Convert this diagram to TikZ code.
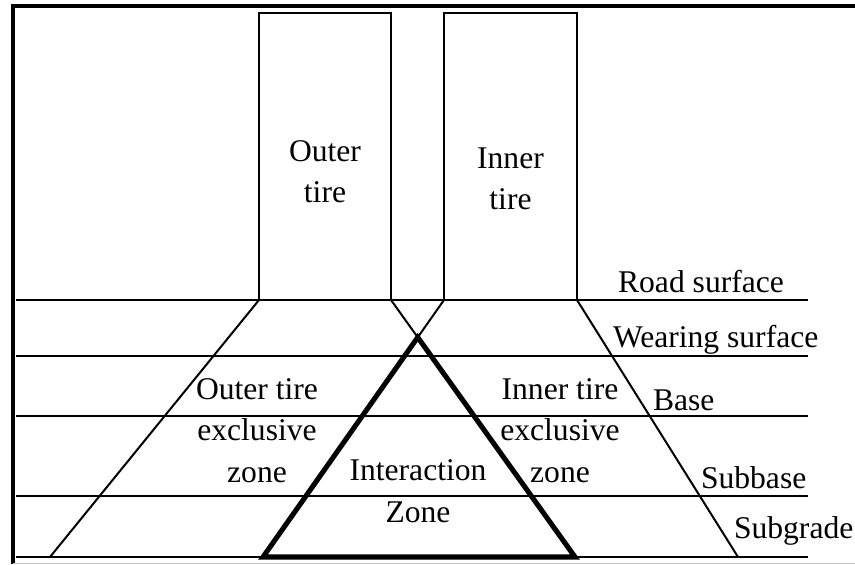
\documentclass[tikz,border=0pt]{standalone}
\usepackage{fontspec}
\setmainfont{Liberation Serif}

\begin{document}
\begin{tikzpicture}[x=0.75pt,y=0.75pt,line width=1.5pt,line join=miter,
  font=\fontsize{23.7}{30.8}\selectfont]
\tikzset{
  lbl/.style={inner sep=0pt,align=center,anchor=base},
  layer/.style={inner sep=0pt,anchor=base west},
  zone/.style={line width=3.8pt}
}
\useasboundingbox (0,0) rectangle (855,564);
% frame
\draw[line width=3pt] (12.5,0) -- (12.5,558) -- (855,558);
\draw[gray!45,line width=1pt] (12.5,0.8) -- (855,0.8);
% layer boundaries
\foreach \y in {264,208,148,68,7}
  \draw (16,\y) -- (808,\y);
% tires
\draw (259,264) rectangle (391,551);
\draw (444,264) rectangle (577,551);
\coordinate (ot-l) at (259,264);
\coordinate (ot-r) at (391,264);
\coordinate (it-l) at (444,264);
\coordinate (it-r) at (577,264);
\coordinate (zl) at (263,7);
\coordinate (zr) at (575,7);
\coordinate (apex) at (intersection of ot-r--zr and it-l--zl);
% load spread
\draw (ot-l) -- (50,7);
\draw (it-r) -- (738,7);
\draw (ot-r) -- (apex) (it-l) -- (apex);
\draw[zone] (apex) -- (zl) -- (zr) -- cycle;
% labels (base = last line)
\node[lbl] (otire) at (325,361) {Outer\\tire};
\node[lbl] (itire) at (510.5,354) {Inner\\tire};
\node[lbl] (ozone) at (257,82) {Outer tire\\exclusive\\zone};
\node[lbl] (izone) at (560,82) {Inner tire\\exclusive\\zone};
\node[lbl] (xzone) at (418,42) {Interaction\\Zone};
\node[lbl] (road) at (701,271) {Road surface};
\node[layer] (wear) at (612,217) {Wearing surface};
\node[layer] (base) at (652,154) {Base};
\node[layer] (sbase) at (700,76) {Subbase};
\node[layer] (sgrade) at (733,26) {Subgrade};
\end{tikzpicture}
\end{document}
